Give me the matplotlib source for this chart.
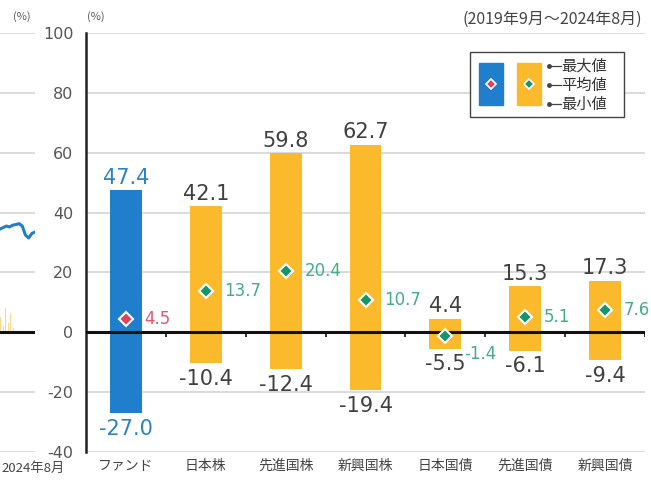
import matplotlib
matplotlib.use("Agg")
import matplotlib.pyplot as plt
from matplotlib.patches import Rectangle
from matplotlib.lines import Line2D

plt.rcParams['font.family'] = ['Noto Sans CJK JP', 'DejaVu Sans']
plt.rcParams['axes.unicode_minus'] = False

categories = ['ファンド', '日本株', '先進国株', '新興国株', '日本国債', '先進国債', '新興国債']
max_vals = [47.4, 42.1, 59.8, 62.7, 4.4, 15.3, 17.3]
mean_vals = [4.5, 13.7, 20.4, 10.7, -1.4, 5.1, 7.6]
min_vals = [-27.0, -10.4, -12.4, -19.4, -5.5, -6.1, -9.4]
yticks = [-40, -20, 0, 20, 40, 60, 80, 100]

# partial neighbouring chart on the left edge
left_line = [34.5, 35.0, 35.5, 35.2, 35.8, 36.0, 36.3, 35.5, 32.5, 31.5, 33.0, 33.5]
left_bars = [5.0, 2.0, 8.0, 3.0, 6.0, 1.5]

BLUE = '#1f7fcc'
BLUE_TXT = '#2c82c6'
YELLOW = '#fbb92c'
GREEN = '#15956b'
GREEN_TXT = '#45ab88'
RED = '#e2405c'
RED_TXT = '#e3586c'
DARK = '#404040'
GRID = '#d8d8d8'

W, H = 651, 484
fig = plt.figure(figsize=(W / 100, H / 100), dpi=100)

def fx(px):
    return px / W

def fy(py):
    return 1 - py / H

y_top, y_bot = 33, 452
ax = fig.add_axes([fx(86), fy(y_bot), fx(645) - fx(86), fy(y_top) - fy(y_bot)])
ax.set_xlim(-0.5, len(categories) - 0.5)
ax.set_ylim(-40, 100)

for t in yticks:
    if t != 0:
        ax.axhline(t, color=GRID, lw=1.3, zorder=0)

for spine in ['top', 'right', 'bottom']:
    ax.spines[spine].set_visible(False)
ax.spines['left'].set_color('#222222')
ax.spines['left'].set_linewidth(1.8)

ax.set_yticks(yticks)
ax.set_yticklabels([str(t) for t in yticks], fontsize=11.5, color='#555555', family='DejaVu Sans')
ax.tick_params(axis='y', length=0, pad=9)
ax.set_xticks(range(len(categories)))
ax.set_xticklabels(categories, fontsize=10, color='#444444')
ax.tick_params(axis='x', length=0, pad=5)

width = 0.4
for i, (mx, mn, mv) in enumerate(zip(max_vals, min_vals, mean_vals)):
    fund = (i == 0)
    col = BLUE if fund else YELLOW
    ax.bar(i, mx - mn, bottom=mn, width=width, color=col, zorder=2)
    ax.plot(i, mv, marker='D', markersize=7, color=RED if fund else GREEN,
            mec='white', mew=1.5, zorder=4, ls='none')
    tcol = BLUE_TXT if fund else DARK
    ax.annotate(f'{mx:.1f}', (i, mx), xytext=(0, 2), textcoords='offset points',
                ha='center', va='bottom', fontsize=15, color=tcol, family='DejaVu Sans')
    ax.annotate(f'{mn:.1f}', (i, mn), xytext=(0, -4), textcoords='offset points',
                ha='center', va='top', fontsize=15, color=tcol, family='DejaVu Sans')
    my = mv if abs(mv) >= 3 else mv - 6
    ax.annotate(f'{mv:.1f}', (i + width / 2, my), xytext=(2, 0), textcoords='offset points',
                ha='left', va='center', fontsize=12,
                color=RED_TXT if fund else GREEN_TXT, family='DejaVu Sans', zorder=5)

ax.axhline(0, color='#111111', lw=2.2, zorder=3)
ax.vlines([i + 0.5 for i in range(len(categories))], -1.6, 0, color='#111111', lw=1.2, zorder=3)

# left partial chart
axl = fig.add_axes([0, fy(y_bot), fx(35), fy(y_top) - fy(y_bot)])
axl.set_xlim(0, len(left_line) - 1)
axl.set_ylim(-40, 100)
axl.axis('off')
for t in yticks:
    if t != 0:
        axl.axhline(t, color=GRID, lw=1.3, zorder=0)
axl.bar([0.2 + 0.8 * k for k in range(len(left_bars))], left_bars, width=0.3,
        color='#f6cf72', alpha=0.8, zorder=1)
axl.plot(range(len(left_line)), left_line, color=BLUE, lw=2.2, zorder=2)
axl.axhline(0, color='#111111', lw=2.2, zorder=3)

# texts
fig.text(fx(22), fy(17), '(%)', fontsize=8, color='#555555', ha='center', va='center')
fig.text(fx(96), fy(17), '(%)', fontsize=8, color='#555555', ha='center', va='center')
fig.text(fx(642), fy(19), '(2019年9月～2024年8月)', fontsize=11.5, color='#444444',
         ha='right', va='center')
fig.text(fx(1), fy(468), '2024年8月', fontsize=9.5, color='#444444', ha='left', va='center')

# legend box
tf = fig.transFigure
fig.patches.append(Rectangle((fx(470), fy(117)), fx(624) - fx(470), fy(52) - fy(117),
                             transform=tf, fill=True, facecolor='white',
                             edgecolor='#444444', lw=1.0, zorder=5))
fig.patches.append(Rectangle((fx(479), fy(105)), fx(24), fy(63) - fy(105),
                             transform=tf, color=BLUE, zorder=6))
fig.patches.append(Rectangle((fx(517), fy(105)), fx(24), fy(63) - fy(105),
                             transform=tf, color=YELLOW, zorder=6))
fig.lines.append(Line2D([fx(491)], [fy(84)], transform=tf, marker='D', markersize=5.5,
                        color=RED, mec='white', mew=1.2, ls='none', zorder=7))
fig.lines.append(Line2D([fx(529)], [fy(84)], transform=tf, marker='D', markersize=5.5,
                        color=GREEN, mec='white', mew=1.2, ls='none', zorder=7))
for ypx, lab in zip([66, 85, 104], ['最大値', '平均値', '最小値']):
    fig.lines.append(Line2D([fx(549), fx(561)], [fy(ypx), fy(ypx)], transform=tf,
                            color='#444444', lw=0.9, zorder=7))
    fig.lines.append(Line2D([fx(549)], [fy(ypx)], transform=tf, marker='o', markersize=2.5,
                            color='#444444', ls='none', zorder=7))
    fig.text(fx(561), fy(ypx), lab, fontsize=11, color='#333333', ha='left', va='center',
             zorder=8)

fig.savefig('out.png', dpi=100)
